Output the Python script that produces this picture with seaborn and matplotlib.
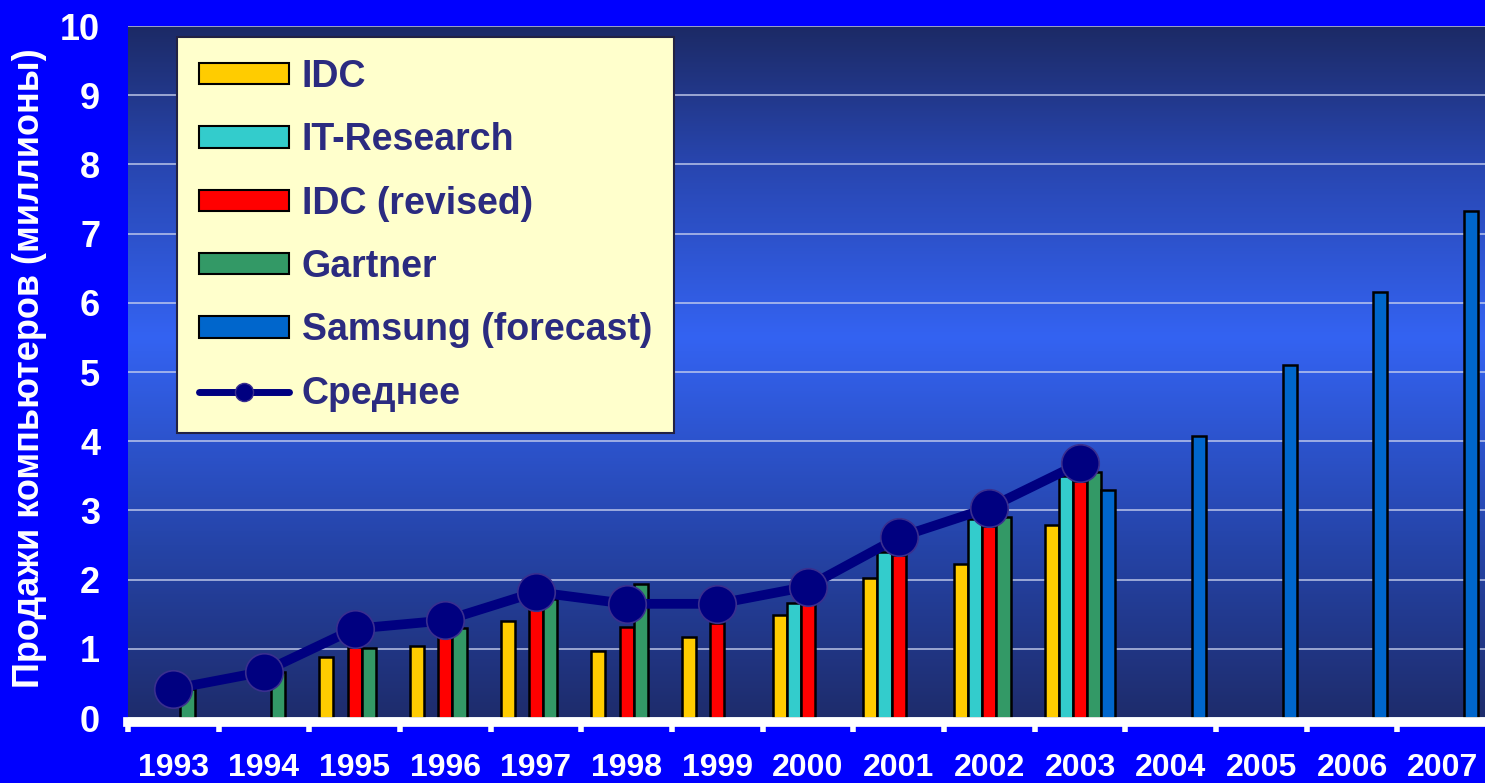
import numpy as np
import pandas as pd
import matplotlib
matplotlib.use("Agg")
import matplotlib.pyplot as plt
from matplotlib.colors import LinearSegmentedColormap
from matplotlib.patches import Patch
from matplotlib.lines import Line2D
import seaborn as sns

# data
years = [str(y) for y in range(1993, 2008)]
sources = ["IDC", "IT-Research", "IDC (revised)", "Gartner", "Samsung (forecast)"]
nan = np.nan
idc = [nan, nan, 0.88, 1.04, 1.40, 0.97, 1.17, 1.49, 2.02, 2.22, 2.79, nan, nan, nan, nan]
it_research = [nan, nan, nan, nan, nan, nan, nan, 1.66, 2.40, 2.88, 3.50, nan, nan, nan, nan]
idc_revised = [nan, nan, 1.02, 1.20, 1.60, 1.31, 1.38, 1.65, 2.35, 2.78, 3.43, nan, nan, nan, nan]
gartner = [0.42, 0.67, 1.01, 1.30, 1.72, 1.94, nan, nan, nan, 2.90, 3.56, nan, nan, nan, nan]
samsung = [nan, nan, nan, nan, nan, nan, nan, nan, nan, nan, 3.29, 4.08, 5.10, 6.15, 7.33]
average = [0.42, 0.67, 1.29, 1.41, 1.82, 1.65, 1.65, 1.90, 2.61, 3.04, 3.68]
avg_label = "Среднее"
y_label = "Продажи компьютеров (миллионы)"

colors = ["#FFCC00", "#33CCCC", "#FF0000", "#339966", "#0066CC"]
navy = "#000080"
text_navy = "#2B2B80"

df = pd.DataFrame({"year": years, "IDC": idc, "IT-Research": it_research,
                   "IDC (revised)": idc_revised, "Gartner": gartner,
                   "Samsung (forecast)": samsung})
long = df.melt(id_vars="year", var_name="source", value_name="sales")

sns.set_theme(style="white")
plt.rcParams["font.family"] = ["Liberation Sans", "DejaVu Sans"]
plt.rcParams["font.weight"] = "bold"

fig = plt.figure(figsize=(14.85, 7.83), dpi=100, facecolor="#0000FF")
ax = fig.add_axes([128 / 1485, 65 / 783, 1360 / 1485, 692 / 783])

# vertical gradient background: dark at top and bottom, bright in the middle
cmap = LinearSegmentedColormap.from_list(
    "bg", [(0.0, "#1E2C6C"), (0.25, "#2544A8"), (0.55, "#3463F2"),
           (0.8, "#2846B0"), (1.0, "#1C2A66")])
grad = np.linspace(0, 1, 256).reshape(-1, 1)
ax.imshow(grad, aspect="auto", cmap=cmap, origin="lower",
          extent=[-0.5, 14.5, 0, 10], zorder=0)

sns.barplot(data=long, x="year", y="sales", hue="source", order=years,
            hue_order=sources, palette=colors, width=0.78, edgecolor="black",
            linewidth=1.8, saturation=1, ax=ax, legend=False, zorder=3)

ax.plot(np.arange(len(average)), average, color=navy, lw=7, marker="o",
        markersize=27, markerfacecolor=navy, markeredgecolor="#3A2F8F",
        markeredgewidth=1.2, zorder=5, solid_capstyle="round")

ax.set_xlim(-0.5, 14.5)
ax.set_ylim(0, 10)
ax.set_yticks(range(0, 11))
ax.yaxis.grid(True, color="#C8D0EE", lw=1.2, alpha=0.85)
ax.set_axisbelow(False)
for gl in ax.get_ygridlines():
    gl.set_zorder(1)
ax.set_xlabel("")
ax.set_ylabel("")

for side in ["top", "right", "left"]:
    ax.spines[side].set_visible(False)
ax.spines["bottom"].set_color("white")
ax.spines["bottom"].set_linewidth(7)
ax.spines["bottom"].set_position(("outward", 3))
ax.spines["bottom"].set_zorder(6)

ax.tick_params(axis="y", length=0, pad=20, labelsize=26, labelcolor="white")
ax.tick_params(axis="x", which="major", length=0, pad=22, labelsize=23,
               labelcolor="white")
ax.set_xticks(np.arange(-0.5, 15, 1), minor=True)
ax.tick_params(axis="x", which="minor", bottom=True, length=7, width=4,
               color="white", direction="out")
for lab in ax.get_xticklabels() + ax.get_yticklabels():
    lab.set_fontweight("bold")

fig.text(30 / 1485, 0.53, y_label, rotation=90, color="white", fontsize=26,
         fontweight="bold", ha="center", va="center")

handles = [Patch(facecolor=c, edgecolor="black", linewidth=1.5) for c in colors]
handles.append(Line2D([0], [0], color=navy, lw=5, marker="o", markersize=13,
                      markerfacecolor=navy, markeredgecolor="#3A2F8F"))
leg = ax.legend(handles, sources + [avg_label], loc="upper left",
                bbox_to_anchor=(177 / 1485, 1 - 37 / 783),
                bbox_transform=fig.transFigure, frameon=True, fancybox=False,
                framealpha=1, facecolor="#FFFFCC", edgecolor="#222244",
                fontsize=27, handlelength=2.4, handleheight=0.5,
                handletextpad=0.35, labelspacing=0.73, borderpad=0.58,
                borderaxespad=0)
leg.get_frame().set_linewidth(1.5)
leg.set_zorder(10)
for t in leg.get_texts():
    t.set_color(text_navy)
    t.set_fontweight("bold")

fig.savefig("out.png", dpi=100, facecolor=fig.get_facecolor())
